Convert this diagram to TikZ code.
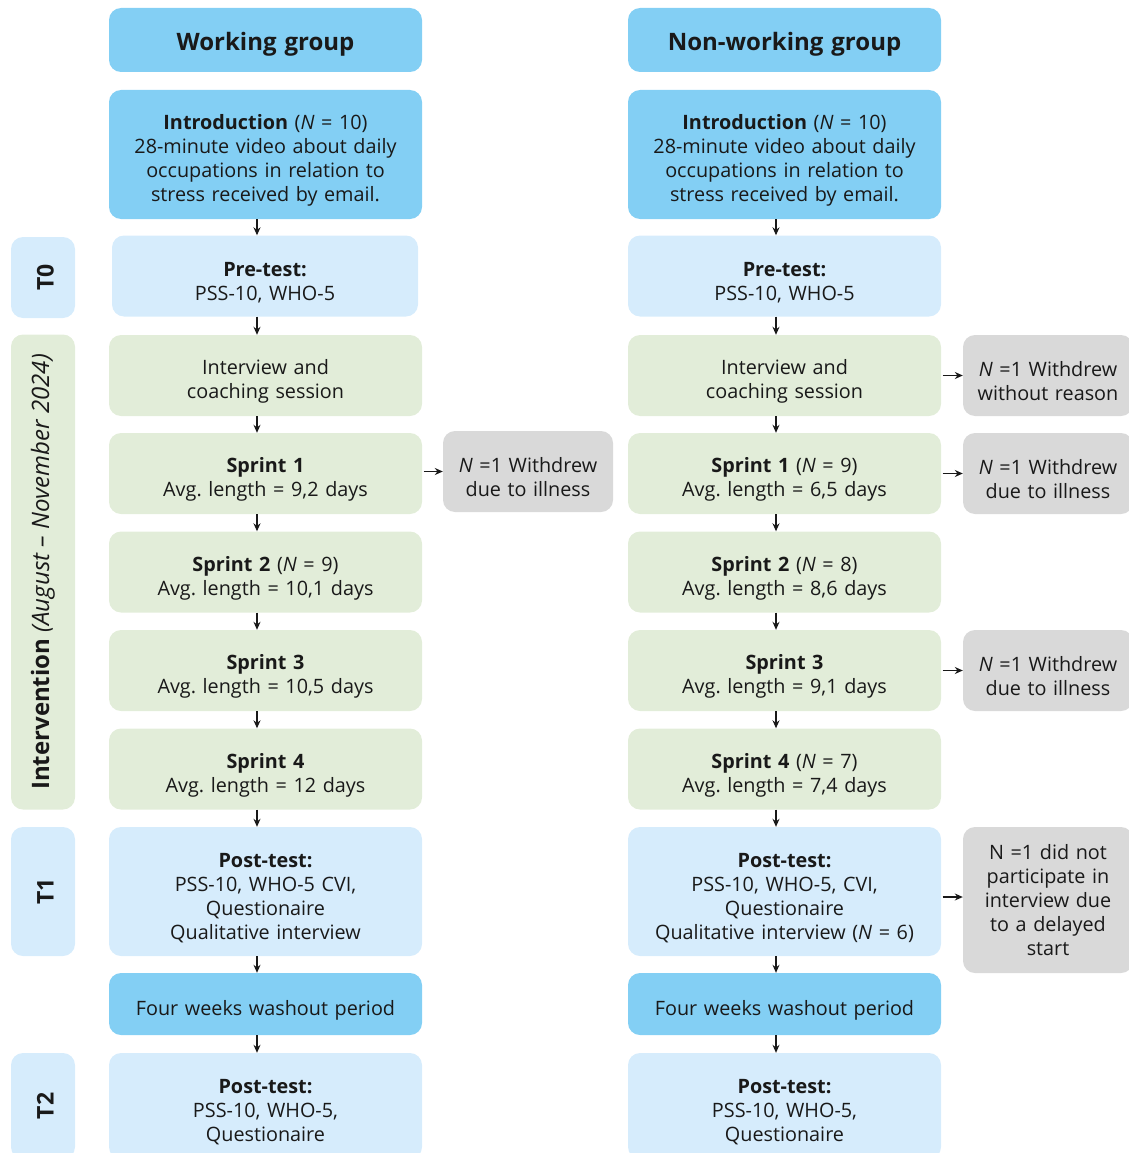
\documentclass[tikz,border=0pt]{standalone}
\usepackage{fontspec}
\setmainfont{Open Sans}
\usepackage{tikz}
\usetikzlibrary{arrows.meta, positioning}
\definecolor{mainBlack}{gray}{0.1}
\definecolor{deepBlue}{RGB}{131,207,244}
\definecolor{paleBlue}{RGB}{214,236,252}
\definecolor{paleGreen}{RGB}{226,237,217}
\definecolor{dropGray}{RGB}{217,217,217}
\frenchspacing
\newcommand{\phaselabel}[1]{\rotatebox{90}{\raisebox{-10.7pt}[0pt][0pt]{\bfseries\fontsize{23}{26}\selectfont #1}}}

\tikzset{
    lift/.initial=27pt,
    flowbox/.style={rounded corners=12pt, minimum width=313pt, text width=305pt, align=center,
        inner sep=0pt, text=mainBlack, font=\fontsize{19.8}{24}\selectfont,
        execute at begin node={\rule{0pt}{\pgfkeysvalueof{/tikz/lift}}}},
    headbox/.style={flowbox, fill=deepBlue, minimum height=64pt, font=\bfseries\fontsize{24}{29}\selectfont},
    introbox/.style={flowbox, fill=deepBlue},
    testbox/.style={flowbox, fill=paleBlue},
    sprintbox/.style={flowbox, fill=paleGreen, minimum height=81pt},
    dropbox/.style={flowbox, fill=dropGray, minimum width=170pt, text width=165pt},
    phasebox/.style={rounded corners=12pt, minimum width=64pt, inner sep=0pt, text=mainBlack},
    flow/.style={-{Stealth[length=8pt, width=7pt]}, mainBlack, line width=1.3pt}
}

\begin{document}
\begin{tikzpicture}[x=1pt, y=-1pt]
    \useasboundingbox (0,0) rectangle (1128,1153);

    % Phase labels
    \node[phasebox, fill=paleBlue, minimum height=81pt] (t0) at (43,277.5) {\phaselabel{T0}};
    \node[phasebox, fill=paleGreen, minimum height=475pt] (tint) at (43,572) {\rotatebox{90}{\fontsize{24}{28}\selectfont\textbf{Intervention} \textit{(August -- November 2024)}}};
    \node[phasebox, fill=paleBlue, minimum height=129pt] (t1) at (43,891.5) {\phaselabel{T1}};
    \node[phasebox, fill=paleBlue, minimum height=106pt] (t2) at (43,1106) {\phaselabel{T2}};

    % Working group
    \node[headbox] (wHead) at (265.5,40) {Working group};
    \node[introbox, minimum height=129pt] (wIntro) at (265.5,154.5) {\textbf{Introduction} (\textit{N} = 10)\\28-minute video about daily\\occupations in relation to\\stress received by email.};
    \node[testbox, minimum width=306pt, minimum height=81pt] (wPre) at (265,276) {\textbf{Pre-test:}\\PSS-10, WHO-5};
    \node[sprintbox] (wCoach) at (265.5,375.5) {Interview and\\coaching session};
    \node[sprintbox] (wS1) at (265.5,473.5) {\textbf{Sprint 1}\\Avg. length = 9,2 days};
    \node[sprintbox] (wS2) at (265.5,572) {\textbf{Sprint 2} (\textit{N} = 9)\\Avg. length = 10,1 days};
    \node[sprintbox] (wS3) at (265.5,670.5) {\textbf{Sprint 3}\\Avg. length = 10,5 days};
    \node[sprintbox] (wS4) at (265.5,769) {\textbf{Sprint 4}\\Avg. length = 12 days};
    \node[testbox, minimum height=129pt] (wPost) at (265.5,891.5) {\textbf{Post-test:}\\PSS-10, WHO-5 CVI,\\Questionaire\\Qualitative interview};
    \node[introbox, minimum height=62pt] (wWash) at (265.5,1004) {Four weeks washout period};
    \node[testbox, minimum height=106pt] (wPost2) at (265.5,1106) {\textbf{Post-test:}\\PSS-10, WHO-5,\\Questionaire};
    \node[dropbox, minimum height=81pt] (wDrop1) at (528,471.5) {\textit{N} =1 Withdrew\\due to illness};

    % Non-working group
    \node[headbox] (nHead) at (784.5,40) {Non-working group};
    \node[introbox, minimum height=129pt] (nIntro) at (784.5,154.5) {\textbf{Introduction} (\textit{N} = 10)\\28-minute video about daily\\occupations in relation to\\stress received by email.};
    \node[testbox, minimum height=81pt] (nPre) at (784.5,276) {\textbf{Pre-test:}\\PSS-10, WHO-5};
    \node[sprintbox] (nCoach) at (784.5,375.5) {Interview and\\coaching session};
    \node[sprintbox] (nS1) at (784.5,473.5) {\textbf{Sprint 1} (\textit{N} = 9)\\Avg. length = 6,5 days};
    \node[sprintbox] (nS2) at (784.5,572) {\textbf{Sprint 2} (\textit{N} = 8)\\Avg. length = 8,6 days};
    \node[sprintbox] (nS3) at (784.5,670.5) {\textbf{Sprint 3}\\Avg. length = 9,1 days};
    \node[sprintbox] (nS4) at (784.5,769) {\textbf{Sprint 4} (\textit{N} = 7)\\Avg. length = 7,4 days};
    \node[testbox, minimum height=129pt] (nPost) at (784.5,891.5) {\textbf{Post-test:}\\PSS-10, WHO-5, CVI,\\Questionaire\\Qualitative interview (\textit{N} = 6)};
    \node[introbox, minimum height=62pt] (nWash) at (784.5,1004) {Four weeks washout period};
    \node[testbox, minimum height=106pt] (nPost2) at (784.5,1106) {\textbf{Post-test:}\\PSS-10, WHO-5,\\Questionaire};
    \node[dropbox, minimum height=81pt] (nDrop0) at (1048,375.5) {\textit{N} =1 Withdrew\\without reason};
    \node[dropbox, minimum height=81pt] (nDrop1) at (1048,473.5) {\textit{N} =1 Withdrew\\due to illness};
    \node[dropbox, minimum height=81pt] (nDrop3) at (1048,670.5) {\textit{N} =1 Withdrew\\due to illness};
    \node[dropbox, minimum height=146pt, lift=15pt] (nDrop5) at (1048,900) {N =1 did not\\participate in\\interview due\\to a delayed\\start};

    % Arrows
    \foreach \g in {w,n} {
        \draw[flow] ([xshift=-8.5pt]\g Intro.south) -- ([xshift=-8.5pt]\g Intro.south |- \g Pre.north);
        \draw[flow] ([xshift=-8.5pt]\g Pre.south -| \g Intro.south) -- ([xshift=-8.5pt]\g Coach.north);
        \draw[flow] ([xshift=-8.5pt]\g Coach.south) -- ([xshift=-8.5pt]\g S1.north);
        \draw[flow] ([xshift=-8.5pt]\g S1.south) -- ([xshift=-8.5pt]\g S2.north);
        \draw[flow] ([xshift=-8.5pt]\g S2.south) -- ([xshift=-8.5pt]\g S3.north);
        \draw[flow] ([xshift=-8.5pt]\g S3.south) -- ([xshift=-8.5pt]\g S4.north);
        \draw[flow] ([xshift=-8.5pt]\g S4.south) -- ([xshift=-8.5pt]\g Post.north);
        \draw[flow] ([xshift=-8.5pt]\g Post.south) -- ([xshift=-8.5pt]\g Wash.north);
        \draw[flow] ([xshift=-8.5pt]\g Wash.south) -- ([xshift=-8.5pt]\g Post2.north);
    }
    \draw[flow, shorten <=1.5pt] (wS1.east |- wDrop1.west) -- (wDrop1.west);
    \draw[flow, shorten <=1.5pt] (nCoach) -- (nDrop0);
    \draw[flow, shorten <=1.5pt] (nS1) -- (nDrop1);
    \draw[flow, shorten <=1.5pt] (nS3) -- (nDrop3);
    \draw[flow, shorten <=1.5pt] ([yshift=-5.5pt]nPost.east) -- ([yshift=-5.5pt]nPost.east -| nDrop5.west);
\end{tikzpicture}
\end{document}
